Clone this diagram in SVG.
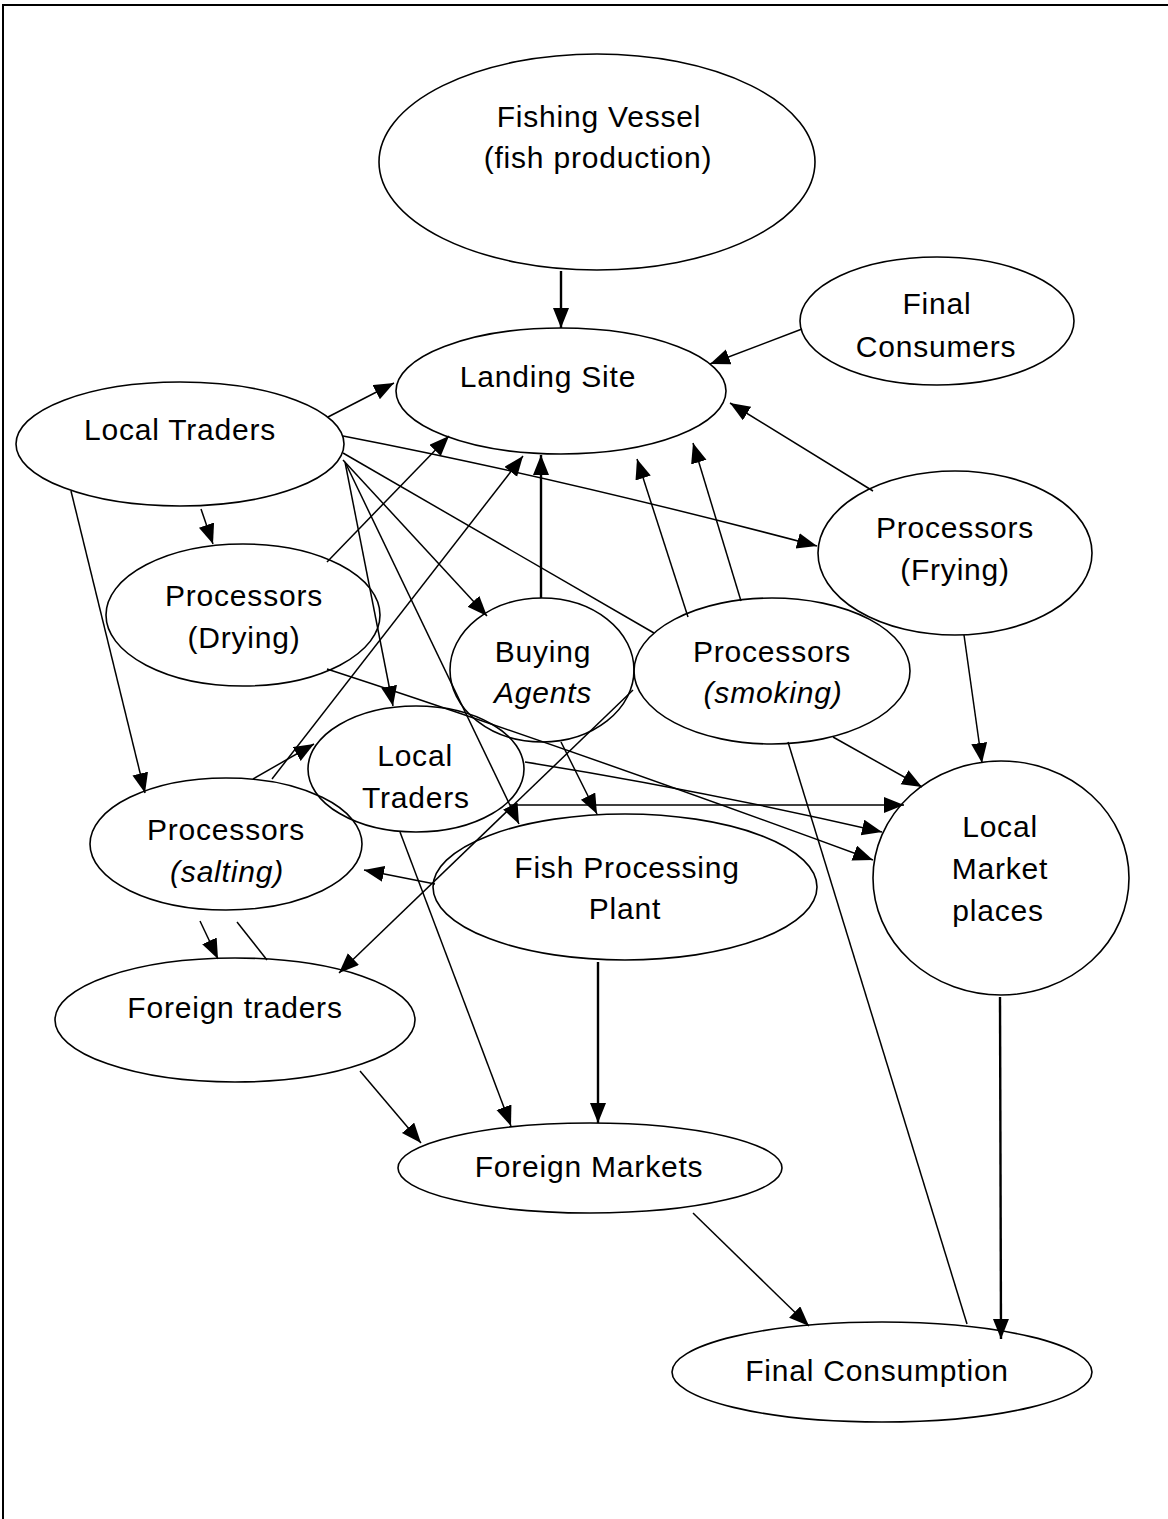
<svg xmlns="http://www.w3.org/2000/svg" width="1168" height="1519" viewBox="0 0 1168 1519">
<style>
.node ellipse{fill:none;stroke:#000;stroke-width:1.6}
.node text{font-family:"Liberation Sans",Arial,sans-serif;font-size:30px;letter-spacing:0.8px;text-anchor:middle;fill:#000}
.it{font-style:italic}
.edges path{fill:none;stroke:#000;stroke-width:1.5}
.edges .a{marker-end:url(#ah)}
.edges .t{stroke-width:2.4}
</style>
<defs>
<marker id="ah" markerUnits="userSpaceOnUse" markerWidth="22" markerHeight="18" refX="20" refY="8" orient="auto" viewBox="0 0 22 18">
<path d="M0,0 L20,8 L0,16 z" fill="#000"/>
</marker>
</defs>
<rect width="1168" height="1519" fill="#fff"/>
<path d="M3,1519 L3,5 L1168,5" fill="none" stroke="#000" stroke-width="2"/>
<g class="edges">
<path class="a t" d="M561,271 L561,328"/>
<path class="a" d="M802,329 L710,364"/>
<path class="a" d="M328,417 L394,383"/>
<path class="a" d="M343,436 Q560,478 817,546"/>
<path class="a" d="M201,509 L213,544"/>
<path class="a" d="M71,491 L145,793"/>
<path class="a" d="M343,460 L487,616"/>
<path d="M343,453 L654,633"/>
<path class="a" d="M345,462 L393,706"/>
<path class="a" d="M346,464 L519,824"/>
<path class="a" d="M327,562 L449,436"/>
<path class="a" d="M272,779 L523,456"/>
<path class="a" d="M253,779 L314,744"/>
<path class="a t" d="M541,598 L541,455"/>
<path class="a" d="M688,617 L637,459"/>
<path class="a" d="M741,601 L693,443"/>
<path class="a" d="M873,491 L730,403"/>
<path class="a" d="M964,635 L982,763"/>
<path class="a" d="M833,737 L922,787"/>
<path d="M788,742 L967,1324"/>
<path class="a t" d="M1000,997 L1001,1339"/>
<path class="a" d="M693,1213 L809,1326"/>
<path class="a t" d="M598,962 L598,1123"/>
<path class="a" d="M360,1071 L421,1143"/>
<path class="a" d="M400,832 L511,1126"/>
<path class="a" d="M200,921 L218,959"/>
<path d="M237,922 L267,960"/>
<path class="a" d="M633,690 L339,973"/>
<path class="a" d="M435,884 L364,870"/>
<path class="a" d="M510,805 L904,805"/>
<path class="a" d="M525,762 Q700,790 882,832"/>
<path class="a" d="M327,669 Q560,745 873,860"/>
<path class="a" d="M561,742 L597,814"/>
</g>
<g id="fishing-vessel" class="node"><ellipse cx="597" cy="162" rx="218" ry="108"/><text x="599" y="127">Fishing Vessel</text><text x="598" y="168">(fish production)</text></g>
<g id="final-consumers" class="node"><ellipse cx="937" cy="321" rx="137" ry="64"/><text x="937" y="314">Final</text><text x="936" y="357">Consumers</text></g>
<g id="landing-site" class="node"><ellipse cx="561" cy="391" rx="165" ry="63"/><text x="548" y="387">Landing Site</text></g>
<g id="local-traders-1" class="node"><ellipse cx="180" cy="444" rx="164" ry="62"/><text x="180" y="440">Local Traders</text></g>
<g id="processors-drying" class="node"><ellipse cx="243" cy="615" rx="137" ry="71"/><text x="244" y="606">Processors</text><text x="244" y="648">(Drying)</text></g>
<g id="processors-frying" class="node"><ellipse cx="955" cy="553" rx="137" ry="82"/><text x="955" y="538">Processors</text><text x="955" y="580">(Frying)</text></g>
<g id="buying-agents" class="node"><ellipse cx="542" cy="670" rx="92" ry="72"/><text x="543" y="662">Buying</text><text x="543" y="703" class="it">Agents</text></g>
<g id="processors-smoking" class="node"><ellipse cx="772" cy="671" rx="138" ry="73"/><text x="772" y="662">Processors</text><text x="773" y="703" class="it">(smoking)</text></g>
<g id="local-traders-2" class="node"><ellipse cx="416" cy="769" rx="108" ry="63"/><text x="415" y="766">Local</text><text x="416" y="808">Traders</text></g>
<g id="processors-salting" class="node"><ellipse cx="226" cy="844" rx="136" ry="66"/><text x="226" y="840">Processors</text><text x="227" y="882" class="it">(salting)</text></g>
<g id="fish-processing-plant" class="node"><ellipse cx="625" cy="887" rx="192" ry="73"/><text x="627" y="878">Fish Processing</text><text x="625" y="919">Plant</text></g>
<g id="local-market-places" class="node"><ellipse cx="1001" cy="878" rx="128" ry="117"/><text x="1000" y="837">Local</text><text x="1000" y="879">Market</text><text x="998" y="921">places</text></g>
<g id="foreign-traders" class="node"><ellipse cx="235" cy="1020" rx="180" ry="62"/><text x="235" y="1018">Foreign traders</text></g>
<g id="foreign-markets" class="node"><ellipse cx="590" cy="1168" rx="192" ry="45"/><text x="589" y="1177">Foreign Markets</text></g>
<g id="final-consumption" class="node"><ellipse cx="882" cy="1372" rx="210" ry="50"/><text x="877" y="1381">Final Consumption</text></g>
</svg>
